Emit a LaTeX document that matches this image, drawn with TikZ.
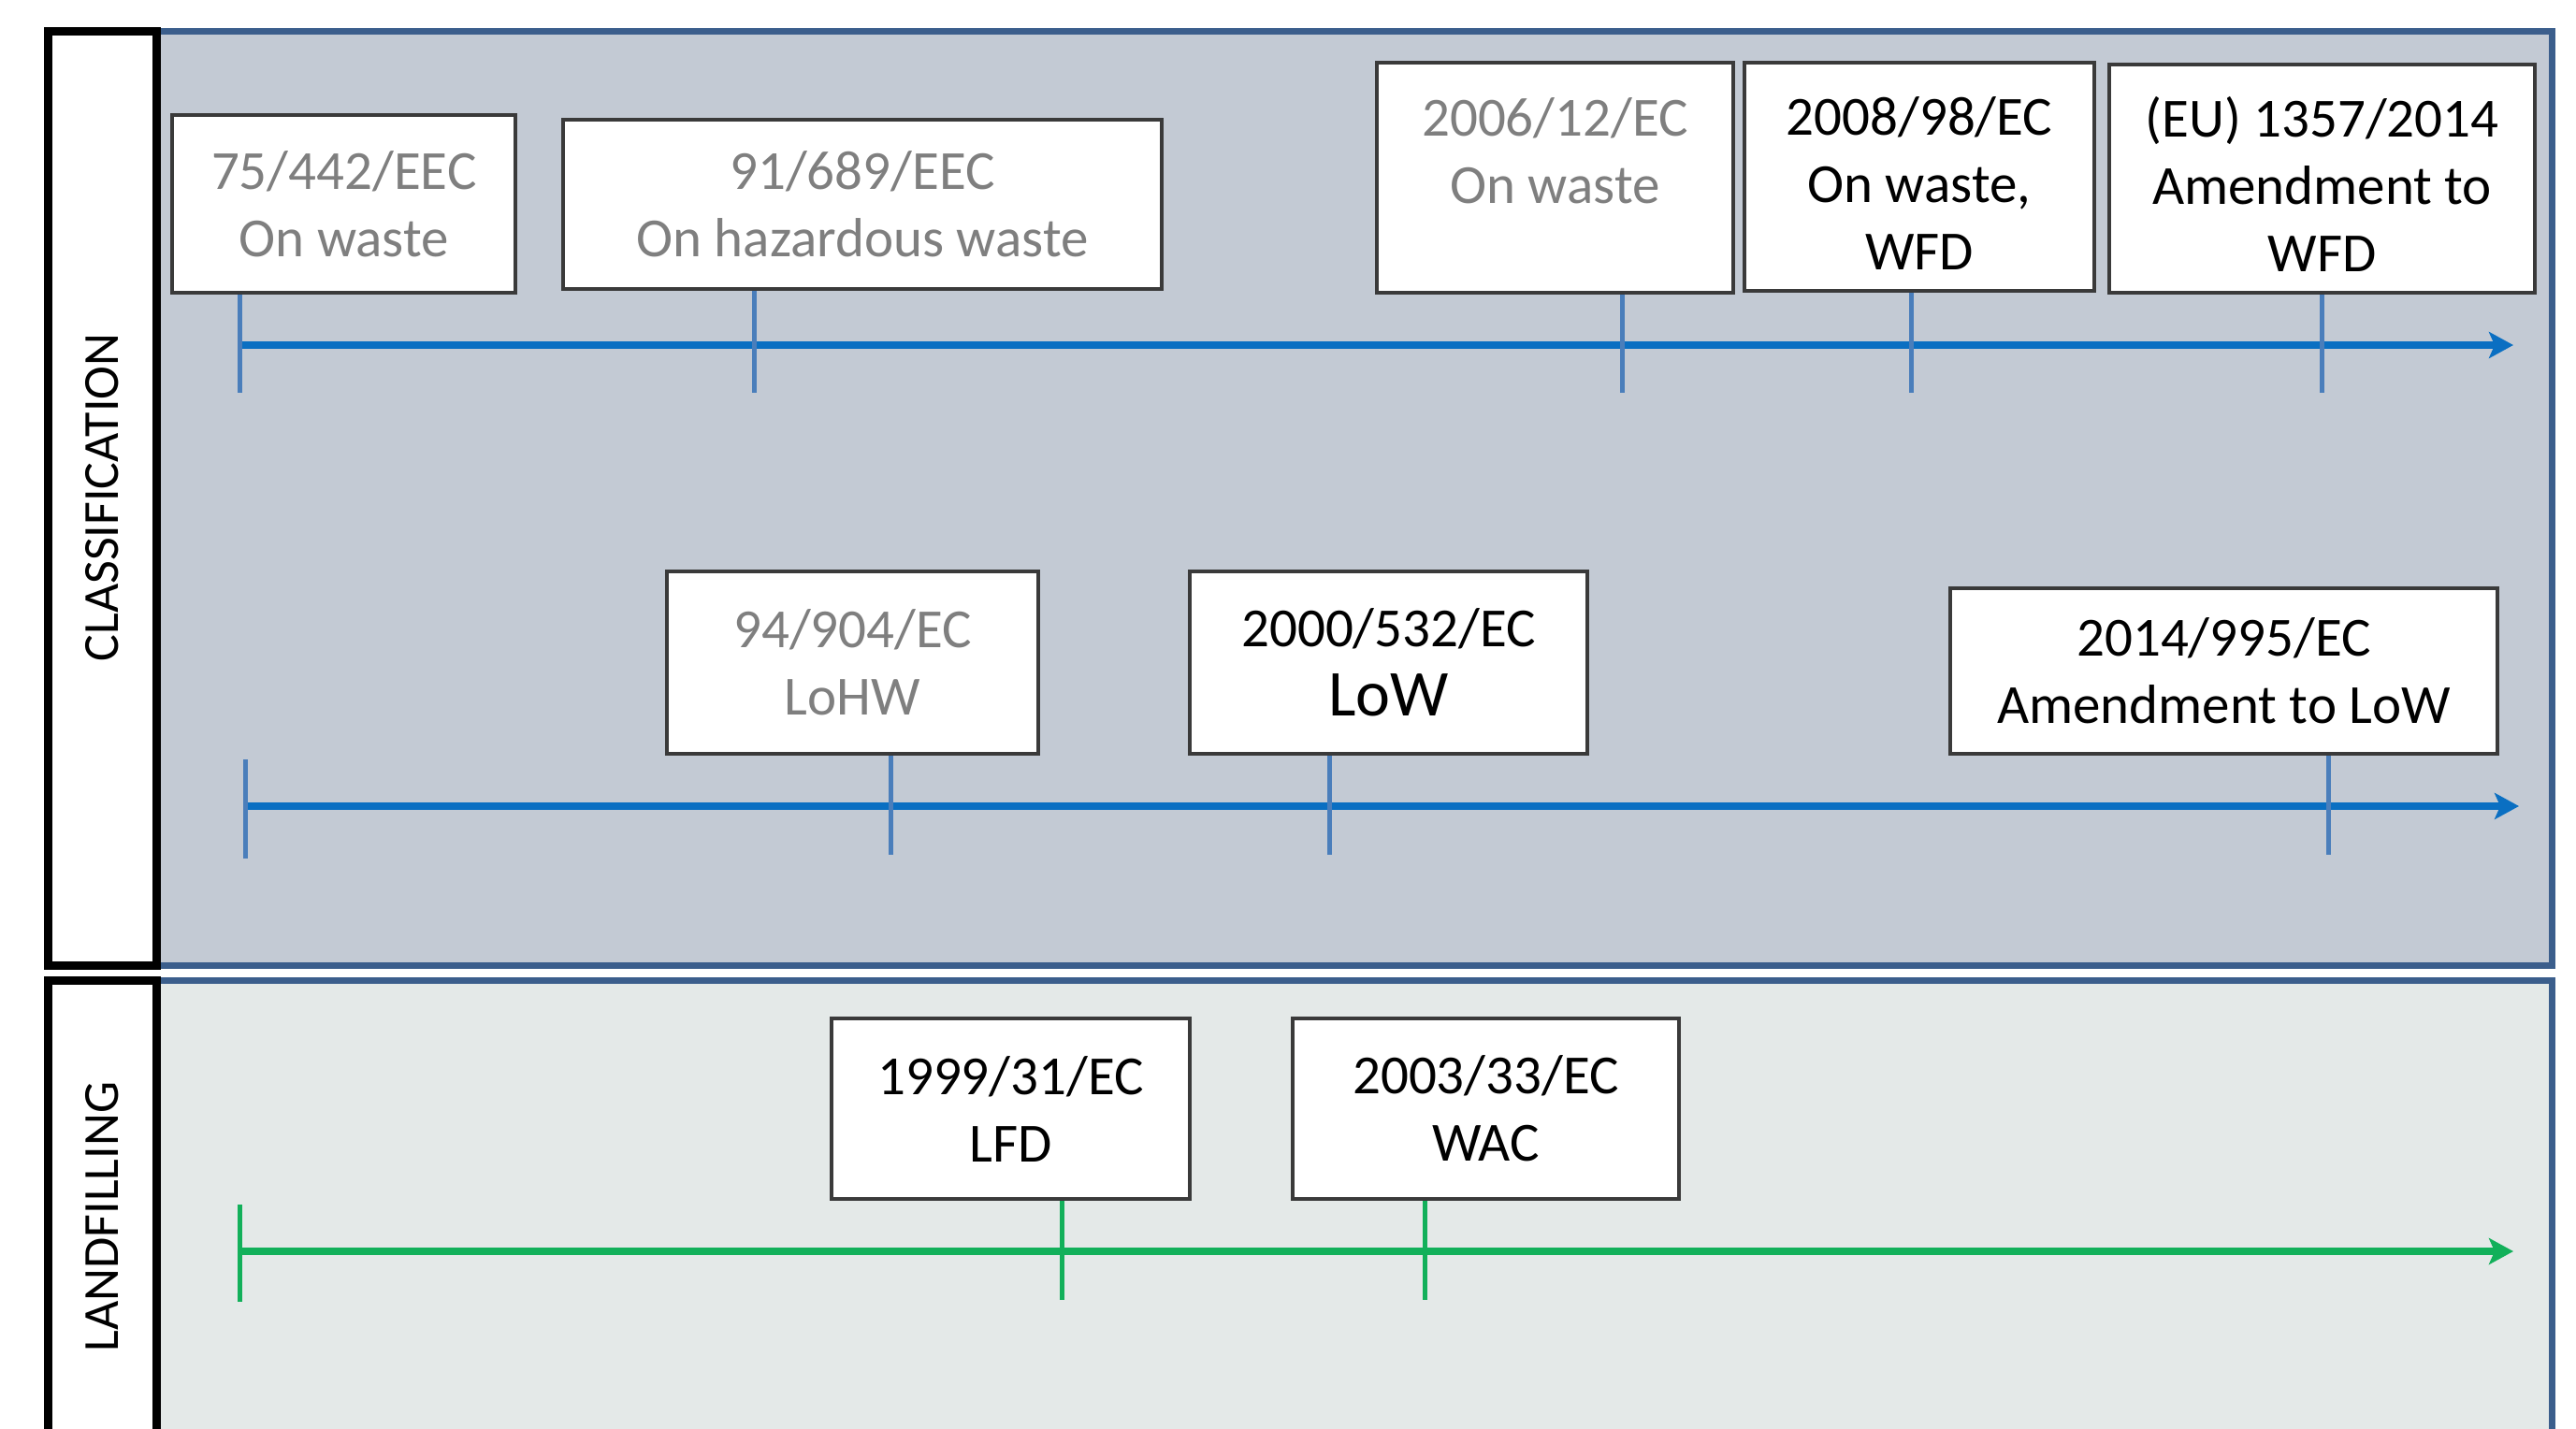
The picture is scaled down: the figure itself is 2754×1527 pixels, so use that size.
\documentclass[tikz,border=0pt]{standalone}
\usepackage{fontspec}
\setmainfont{Carlito}
\usetikzlibrary{arrows.meta}
\definecolor{panelblue}{HTML}{3B5E8C}
\definecolor{panelfillA}{HTML}{C3CAD4}
\definecolor{panelfillB}{HTML}{E4E9E8}
\definecolor{axisblue}{HTML}{0A6FC2}
\definecolor{tickblue}{HTML}{4A7EBB}
\definecolor{axisgreen}{HTML}{12B05A}
\definecolor{oldgray}{HTML}{7F7F7F}
\definecolor{boxedge}{HTML}{3A3A3A}
\newcommand{\lowerit}{\rule{0pt}{56pt}}
\begin{document}
\begin{tikzpicture}[x=1pt,y=-1pt,
  doc/.style={draw=boxedge, line width=4pt, fill=white, inner sep=0pt, align=center,
    font=\fontsize{59}{72}\selectfont},
  old/.style={text=oldgray},
  panelA/.style={draw=panelblue, line width=7pt, fill=panelfillA},
  panelB/.style={draw=panelblue, line width=7pt, fill=panelfillB},
  labelbox/.style={draw=black, line width=9pt, fill=white},
  sidelabel/.style={rotate=90, font=\fontsize{54}{60}\selectfont},
  axisA/.style={draw=axisblue, line width=8pt, -{Stealth[length=26pt,width=28pt,inset=6pt]}},
  tickA/.style={draw=tickblue, line width=5pt},
  axisB/.style={draw=axisgreen, line width=8pt, -{Stealth[length=26pt,width=28pt,inset=6pt]}},
  tickB/.style={draw=axisgreen, line width=5pt}
]
\clip (0,0) rectangle (2754,1527);
\fill[white] (0,0) rectangle (2754,1527);

% panels
\draw[panelA] (167,33) rectangle (2728,1032);
\draw[panelB] (167,1048) rectangle (2728,1560);
\draw[labelbox] (51,33) rectangle (167,1032);
\draw[labelbox] (51,1048) rectangle (167,1560);
\node[sidelabel] (lc) at (109,532) {CLASSIFICATION};
\node[sidelabel] (ll) at (109,1301) {LANDFILLING};

% row 1
\node[doc, old, minimum width=367pt, minimum height=190pt] (b1) at (367.8,217.8) {75/442/EEC\\On waste};
\node[doc, old, minimum width=640pt, minimum height=181pt] (b2) at (922,218.5) {91/689/EEC\\On hazardous waste};
\node[doc, old, minimum width=381pt, minimum height=246pt] (b3) at (1662.5,189.6) {\lowerit 2006/12/EC\\On waste\\\phantom{W}};
\node[doc, minimum width=374pt, minimum height=244pt] (b4) at (2052,188.8) {\lowerit 2008/98/EC\\On waste,\\WFD};
\node[doc, minimum width=455pt, minimum height=244pt] (b5) at (2482.5,190.5) {\lowerit (EU) 1357/2014\\Amendment to\\WFD};

\coordinate (a1s) at (256,369);
\coordinate (a1e) at (2687,369);
\coordinate (t12) at (806,369);
\coordinate (t13) at (1734,369);
\coordinate (t14) at (2043,369);
\coordinate (t15) at (2482,369);
\draw[axisA] (a1s) -- (a1e);
\draw[tickA] (b1.south -| a1s) -- ++(0,105);
\draw[tickA] (b2.south -| t12) -- ++(0,109);
\draw[tickA] (b3.south -| t13) -- ++(0,105);
\draw[tickA] (b4.south -| t14) -- ++(0,107);
\draw[tickA] (b5.south -| t15) -- ++(0,105);

% row 2
\node[doc, old, minimum width=397pt, minimum height=195pt] (b6) at (911.5,708.5) {94/904/EC\\LoHW};
\node[doc, minimum width=425pt, minimum height=195pt] (b7) at (1484.5,708.5) {2000/532/EC\\[2pt]{\fontsize{70}{72}\selectfont LoW}};
\node[doc, minimum width=585pt, minimum height=177pt] (b8) at (2377.5,717.5) {2014/995/EC\\Amendment to LoW};

\coordinate (a2s) at (262,862);
\coordinate (a2e) at (2693,862);
\coordinate (t22) at (952,862);
\coordinate (t23) at (1421,862);
\coordinate (t24) at (2489,862);
\draw[axisA] (a2s) -- (a2e);
\draw[tickA] ([yshift=-56pt]a2s) -- ([yshift=50pt]a2s);
\draw[tickA] (b6.south -| t22) -- ++(0,106);
\draw[tickA] (b7.south -| t23) -- ++(0,106);
\draw[tickA] (b8.south -| t24) -- ++(0,106);

% landfilling
\node[doc, minimum width=383pt, minimum height=193pt] (b9) at (1080.5,1185.5) {1999/31/EC\\LFD};
\node[doc, minimum width=413pt, minimum height=193pt] (b10) at (1588.5,1185.5) {2003/33/EC\\WAC};

\coordinate (a3s) at (256,1338);
\coordinate (a3e) at (2687,1338);
\coordinate (t32) at (1135,1338);
\coordinate (t33) at (1523,1338);
\draw[axisB] (a3s) -- (a3e);
\draw[tickB] ([yshift=-54pt]a3s) -- ([yshift=50pt]a3s);
\draw[tickB] (b9.south -| t32) -- ++(0,106);
\draw[tickB] (b10.south -| t33) -- ++(0,106);
\end{tikzpicture}
\end{document}
